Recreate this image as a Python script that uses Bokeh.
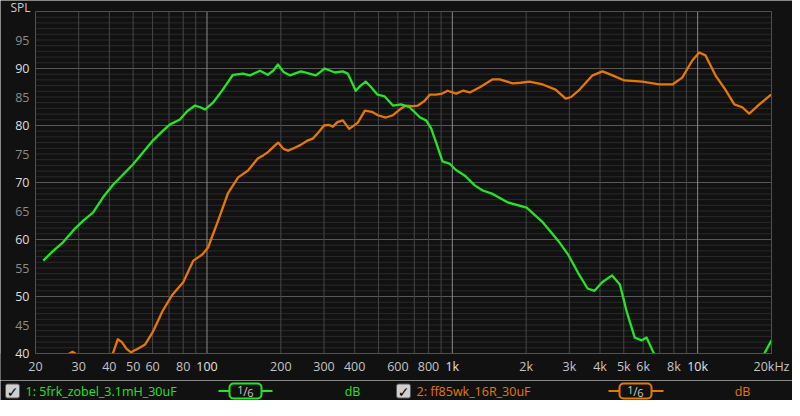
from bokeh.plotting import figure
from bokeh.models import Range1d
from bokeh.layouts import column
from bokeh.core.properties import value
from bokeh.embed import file_html
from bokeh.resources import INLINE

# ---------------- data ----------------
green_freq = [21.5, 23.6, 25.9, 28.5, 31.3, 34.3, 37.7, 41.4, 45.5, 50, 54.9, 60.3, 66.2,
              70.7, 77.6, 83, 89.4, 94, 98.1, 105.8, 116, 127.6, 140.2, 149.7, 157, 164.4,
              177, 186, 194.6, 205, 217.7, 241.5, 262, 277.7, 290, 302, 332, 357.6, 375,
              404, 420, 443.6, 465, 496, 530, 573, 618, 670, 739, 782, 820, 859, 912, 974,
              1035, 1071, 1133, 1234, 1331, 1460, 1685, 2010, 2340, 2700, 2960, 3250, 3560,
              3800, 4080, 4480, 4820, 5150, 5540, 5910, 6190, 6600, 7200, 8500, 10000, 13000,
              16000, 18700, 20000]
green_spl = [56.3, 58.0, 59.5, 61.6, 63.3, 64.7, 67.4, 69.6, 71.4, 73.2, 75.3, 77.4, 79.1,
             80.2, 81.05, 82.5, 83.5, 83.2, 82.8, 84.0, 86.3, 88.9, 89.1, 88.8, 89.2, 89.6,
             88.9, 89.6, 90.7, 89.4, 88.8, 89.5, 89.1, 88.8, 89.4, 90.0, 89.3, 89.5, 89.1,
             86.1, 86.9, 87.7, 86.8, 85.4, 85.1, 83.5, 83.7, 83.2, 81.4, 80.9, 79.5, 77.0,
             73.7, 73.3, 72.2, 71.8, 71.1, 69.5, 68.6, 68.0, 66.5, 65.6, 63.0, 59.8, 57.4,
             54.2, 51.4, 51.0, 52.5, 53.7, 52.1, 47.2, 42.8, 42.3, 42.8, 40.2, 37.0, 34.0,
             32.0, 31.0, 34.0, 40.0, 42.3]

orange_freq = [20, 24, 27, 28.3, 30, 33, 37, 40, 41.5, 43.3, 45, 47, 49, 52, 56, 60, 66, 72,
               80, 88, 96, 101, 111, 122, 134, 147, 161, 170, 177, 186, 195, 205, 214, 228,
               241, 258, 270, 285, 300, 315, 326, 340, 358, 380, 412, 440, 470, 497, 536, 573,
               610, 646, 690, 724, 770, 809, 858, 910, 957, 1037, 1103, 1178, 1295, 1461,
               1559, 1760, 1900, 2066, 2336, 2636, 2897, 3050, 3304, 3730, 4095, 4497, 5032,
               5948, 6977, 7888, 8655, 9508, 10150, 10770, 11820, 12970, 14110, 15200, 16230,
               17840, 19740, 20000]
orange_spl = [37.0, 38.5, 39.8, 40.3, 39.6, 38.0, 37.5, 39.0, 40.2, 42.5, 42.0, 40.8, 40.2,
              40.8, 41.6, 43.7, 47.5, 50.2, 52.5, 56.3, 57.4, 58.6, 63.3, 68.2, 70.9, 72.1,
              74.2, 74.8, 75.3, 76.2, 77.0, 75.9, 75.6, 76.1, 76.6, 77.4, 77.7, 78.8, 80.0,
              80.1, 79.8, 80.6, 80.9, 79.4, 80.5, 82.6, 82.4, 81.8, 81.4, 81.8, 82.8, 83.5,
              83.4, 83.5, 84.3, 85.4, 85.4, 85.6, 86.1, 85.6, 86.1, 85.8, 86.7, 88.1, 88.1,
              87.4, 87.5, 87.7, 87.2, 86.3, 84.7, 85.0, 86.3, 88.8, 89.5, 88.8, 87.9, 87.7,
              87.2, 87.2, 88.4, 91.4, 92.8, 92.3, 88.8, 86.3, 83.7, 83.2, 82.1, 83.7, 85.3,
              85.4]

F_MIN, F_MAX = 20, 20000
DB_MIN, DB_MAX = 40, 100
y_minor = list(range(41, 100))
y_major = [50, 60, 70, 80, 90]
y_labels = [40, 45, 50, 55, 60, 65, 70, 75, 80, 85, 90, 95]
x_minor = [30, 40, 50, 60, 70, 80, 90, 200, 300, 400, 500, 600, 700, 800, 900,
           2000, 3000, 4000, 5000, 6000, 7000, 8000, 9000]
x_major = [100, 1000, 10000]
x_tick_vals = [20, 30, 40, 50, 60, 80, 100, 200, 300, 400, 600, 800, 1000, 2000, 3000,
               4000, 5000, 6000, 8000, 10000, 20000]
x_tick_text = ["20", "30", "40", "50", "60", "80", "100", "200", "300", "400", "600", "800",
               "1k", "2k", "3k", "4k", "5k", "6k", "8k", "10k", "20kHz"]

name1 = "1: 5frk_zobel_3.1mH_30uF"
name2 = "2: ff85wk_16R_30uF"
smooth_num, smooth_slash, smooth_den = "1", "/", "6"
unit_text = "dB"

GREEN = "#22e622"
ORANGE = "#e67800"
BG = "#111111"
FONT = "Open Sans"

# ---------------- geometry (pixels) ----------------
W, H = 792, 380
LEFT, RIGHT, TOP, BOTTOM = 35, 21, 11, 27
PX_PER_DEC = (W - LEFT - RIGHT) / 3.0
PX_PER_DB = (H - TOP - BOTTOM) / float(DB_MAX - DB_MIN)

x_lo = F_MIN / 10 ** (LEFT / PX_PER_DEC)
x_hi = F_MAX * 10 ** (RIGHT / PX_PER_DEC)
y_lo = DB_MIN - BOTTOM / PX_PER_DB
y_hi = DB_MAX + TOP / PX_PER_DB

p = figure(width=W, height=H, x_axis_type="log",
           x_range=Range1d(x_lo, x_hi), y_range=Range1d(y_lo, y_hi),
           x_axis_location=None, y_axis_location=None,
           output_backend="svg", toolbar_location=None, min_border=0,
           background_fill_color=BG, border_fill_color=BG, outline_line_color=None)
for g in p.grid:
    g.visible = False

# grid
p.segment(x0=[F_MIN] * len(y_minor), y0=y_minor, x1=[F_MAX] * len(y_minor), y1=y_minor,
          line_color="#2a2a2a", line_width=1)
p.segment(x0=[F_MIN] * len(y_major), y0=y_major, x1=[F_MAX] * len(y_major), y1=y_major,
          line_color="#585858", line_width=1)
p.segment(x0=x_minor, y0=[DB_MIN] * len(x_minor), x1=x_minor, y1=[DB_MAX] * len(x_minor),
          line_color="#464646", line_width=1)
p.segment(x0=x_major, y0=[DB_MIN] * len(x_major), x1=x_major, y1=[DB_MAX] * len(x_major),
          line_color="#8a8a8a", line_width=1)

# curves
p.line(orange_freq, orange_spl, line_color=ORANGE, line_width=2.3, line_join="round")
p.line(green_freq, green_spl, line_color=GREEN, line_width=2.3, line_join="round")

# mask below the plot area so curves are cut at 40 dB
p.quad(left=[x_lo], right=[x_hi], bottom=[y_lo], top=[DB_MIN], fill_color=BG, line_color=None)
# plot border
p.quad(left=[F_MIN], right=[F_MAX], bottom=[DB_MIN], top=[DB_MAX], fill_color=None,
       line_color="#505050", line_width=1)

# y tick labels
y_lab_x = F_MIN / 10 ** (6 / PX_PER_DEC)
p.text(x=[y_lab_x] * len(y_labels), y=y_labels, text=[str(v) for v in y_labels],
       text_color=["#dddddd" if v % 10 == 0 else "#8c8c8c" for v in y_labels],
       text_align="right", text_baseline="middle", text_font=value(FONT),
       text_font_size="12.5px")
# x tick labels
x_lab_y = DB_MIN - 12.5 / PX_PER_DB
p.text(x=x_tick_vals, y=[x_lab_y] * len(x_tick_vals), text=x_tick_text,
       text_color=["#e0e0e0" if f in x_major else "#c4c4c4" for f in x_tick_vals],
       text_align="center", text_baseline="middle", text_font=value(FONT),
       text_font_size="12.5px")
# axis title
p.text(x=[F_MIN / 10 ** (25 / PX_PER_DEC)], y=[DB_MAX + 4 / PX_PER_DB], text=["SPL"],
       text_color="#cccccc", text_align="left", text_baseline="middle",
       text_font=value(FONT), text_font_size="12px")

# ---------------- legend strip ----------------
lf = figure(width=W, height=20, x_range=Range1d(0, W), y_range=Range1d(20, 0),
            x_axis_location=None, y_axis_location=None, min_border=0,
            output_backend="svg", toolbar_location=None,
            background_fill_color=BG, border_fill_color=BG, outline_line_color=None)
for g in lf.grid:
    g.visible = False

CY = 10.5

def legend_item(x0, name, color, line_l, box_l, box_r, line_r, unit_x):
    lf.quad(left=[x0], right=[x0 + 14], top=[CY - 7], bottom=[CY + 7], fill_color="#cfcfcf",
            line_color="#5a5a5a", line_width=1, border_radius=2)
    lf.text(x=[x0 + 7], y=[CY + 0.5], text=["✓"], text_color="#000000", text_align="center",
            text_baseline="middle", text_font=value("DejaVu Sans"), text_font_size="14px",
            text_font_style="bold")
    lf.text(x=[x0 + 20], y=[CY], text=[name], text_color=color, text_align="left",
            text_baseline="middle", text_font=value(FONT), text_font_size="12.5px")
    lf.segment(x0=[line_l], y0=[CY], x1=[line_r], y1=[CY], line_color=color, line_width=2)
    lf.quad(left=[box_l], right=[box_r], top=[CY - 7.5], bottom=[CY + 7.5], fill_color=BG,
            line_color=color, line_width=2, border_radius=4)
    cx = (box_l + box_r) / 2
    lf.text(x=[cx - 5, cx, cx + 5], y=[CY - 1.5, CY, CY + 1.5],
            text=[smooth_num, smooth_slash, smooth_den], text_color="#c8c8c8",
            text_align="center", text_baseline="middle", text_font=value(FONT),
            text_font_size=["11px", "12px", "11px"])
    lf.text(x=[unit_x], y=[CY], text=[unit_text], text_color=color, text_align="center",
            text_baseline="middle", text_font=value(FONT), text_font_size="12.5px")

legend_item(5, name1, GREEN, 218, 229, 261, 272, 352)
legend_item(396, name2, ORANGE, 608, 619, 651, 663, 742)

layout = column(p, lf, spacing=0)
open("out.html", "w").write(file_html(layout, INLINE))
